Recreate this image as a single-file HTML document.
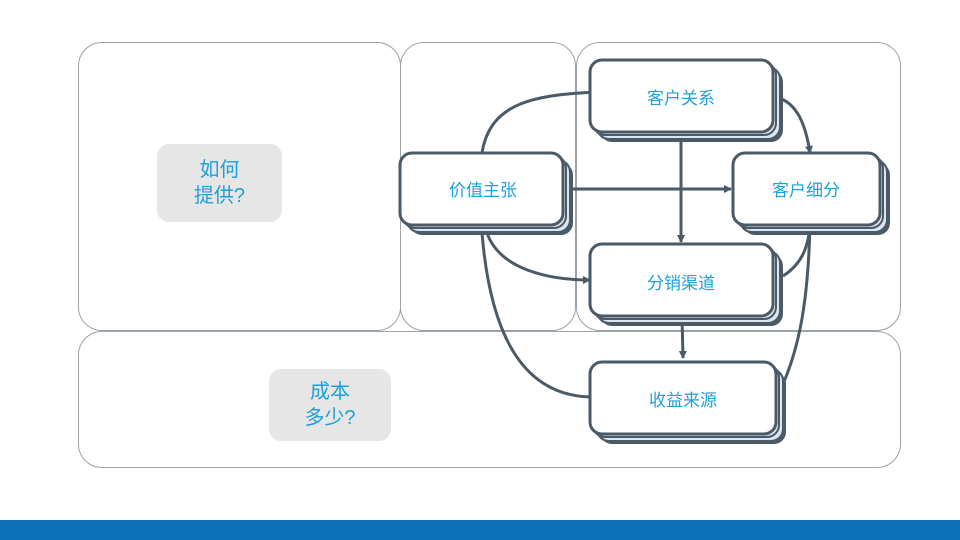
<!DOCTYPE html>
<html><head><meta charset="utf-8"><style>
body{margin:0;width:960px;height:540px;background:#fff;overflow:hidden;position:relative;font-family:"Liberation Sans","Noto Sans CJK SC",sans-serif}
.p{position:absolute;border:1px solid #9aa3aa;border-radius:24px;box-sizing:border-box}
.q{position:absolute;background:#e6e6e6;border-radius:12px;color:#1ea0d8;font-size:20px;line-height:26px;text-align:center;display:flex;align-items:center;justify-content:center}
.bar{position:absolute;left:0;top:520px;width:960px;height:20px;background:#0b72ba}
</style></head><body>
<div class="p" style="left:78px;top:42px;width:323px;height:289px"></div>
<div class="p" style="left:400px;top:42px;width:176px;height:289px"></div>
<div class="p" style="left:576px;top:42px;width:325px;height:289px"></div>
<div class="p" style="left:78px;top:331px;width:823px;height:137px"></div>
<div class="q" style="left:157px;top:144px;width:125px;height:78px">如何<br>提供?</div>
<div class="q" style="left:269px;top:369px;width:122px;height:72px">成本<br>多少?</div>
<svg width="960" height="540" style="position:absolute;left:0;top:0" font-family="Liberation Sans,Noto Sans CJK SC,sans-serif">
<defs><marker id="a" markerWidth="8" markerHeight="8" refX="7" refY="4" orient="auto" markerUnits="userSpaceOnUse"><path d="M0,0 L8,4 L0,8z" fill="#4a5a66"/></marker>
<g id="stk"><rect x="8" y="8" width="W" height="H"/></g></defs>
<g stroke="#4a5a66" stroke-width="3" fill="none">
<path d="M482,153 C490,100 540,95 596,92" marker-end="url(#a)"/>
<path d="M563,189 L731,189" marker-end="url(#a)"/>
<path d="M681,132 L681,242" marker-end="url(#a)"/>
<path d="M772,96 C795,100 805,120 810,153" marker-end="url(#a)"/>
<path d="M487,233 C500,270 550,280 590,280" marker-end="url(#a)"/>
<path d="M682,316 L683,358" marker-end="url(#a)"/>
<path d="M482,233 C490,330 520,395 590,397"/>
<path d="M783,276 C800,265 808,250 810,226" marker-end="url(#a)"/>
<path d="M810,226 C808,300 800,350 778,395" marker-end="url(#a)"/>
</g>
<g font-size="17" fill="#1ea0d8" text-anchor="middle">
<g transform="translate(590,60)"><rect x="10" y="10" width="183" height="72" rx="12" fill="#4a5a66"/><rect x="7" y="7" width="183" height="72" rx="12" fill="#dde6ec" stroke="#4a5a66" stroke-width="2"/><rect x="3" y="3" width="183" height="72" rx="12" fill="#dde6ec" stroke="#4a5a66" stroke-width="2"/><rect x="0" y="0" width="183" height="72" rx="12" fill="#fff" stroke="#4a5a66" stroke-width="3"/><text x="91" y="44">客户关系</text></g>
<g transform="translate(400,153)"><rect x="10" y="10" width="163" height="72" rx="12" fill="#4a5a66"/><rect x="7" y="7" width="163" height="72" rx="12" fill="#dde6ec" stroke="#4a5a66" stroke-width="2"/><rect x="3" y="3" width="163" height="72" rx="12" fill="#dde6ec" stroke="#4a5a66" stroke-width="2"/><rect x="0" y="0" width="163" height="72" rx="12" fill="#fff" stroke="#4a5a66" stroke-width="3"/><text x="83" y="43">价值主张</text></g>
<g transform="translate(733,153)"><rect x="10" y="10" width="147" height="72" rx="12" fill="#4a5a66"/><rect x="7" y="7" width="147" height="72" rx="12" fill="#dde6ec" stroke="#4a5a66" stroke-width="2"/><rect x="3" y="3" width="147" height="72" rx="12" fill="#dde6ec" stroke="#4a5a66" stroke-width="2"/><rect x="0" y="0" width="147" height="72" rx="12" fill="#fff" stroke="#4a5a66" stroke-width="3"/><text x="73" y="43">客户细分</text></g>
<g transform="translate(590,244)"><rect x="10" y="10" width="183" height="72" rx="12" fill="#4a5a66"/><rect x="7" y="7" width="183" height="72" rx="12" fill="#dde6ec" stroke="#4a5a66" stroke-width="2"/><rect x="3" y="3" width="183" height="72" rx="12" fill="#dde6ec" stroke="#4a5a66" stroke-width="2"/><rect x="0" y="0" width="183" height="72" rx="12" fill="#fff" stroke="#4a5a66" stroke-width="3"/><text x="91" y="45">分销渠道</text></g>
<g transform="translate(590,362)"><rect x="10" y="10" width="186" height="72" rx="12" fill="#4a5a66"/><rect x="7" y="7" width="186" height="72" rx="12" fill="#dde6ec" stroke="#4a5a66" stroke-width="2"/><rect x="3" y="3" width="186" height="72" rx="12" fill="#dde6ec" stroke="#4a5a66" stroke-width="2"/><rect x="0" y="0" width="186" height="72" rx="12" fill="#fff" stroke="#4a5a66" stroke-width="3"/><text x="93" y="44">收益来源</text></g>
</g>
</svg>
<div class="bar"></div>
</body></html>
